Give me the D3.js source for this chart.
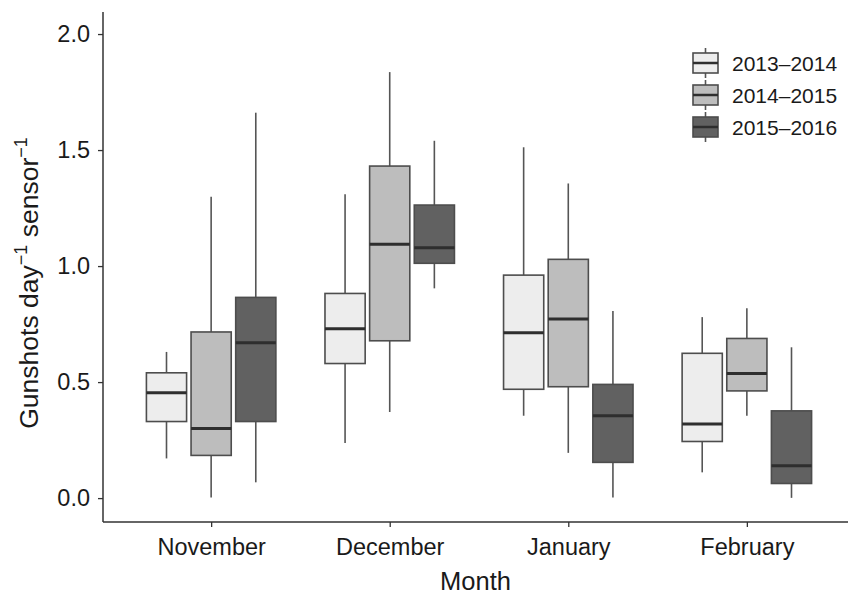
<!DOCTYPE html>
<html>
<head>
<meta charset="utf-8">
<script src="https://cdn.jsdelivr.net/npm/d3@7"></script>
<style>
  body { margin: 0; background: #fff; }
  text { font-family: "Liberation Sans", Arial, sans-serif; fill: #1a1a1a; }
</style>
</head>
<body>
<script>
const months = ['November', 'December', 'January', 'February'];
const seasons = ['2013–2014', '2014–2015', '2015–2016'];
const fills = ['#ededed', '#bdbdbd', '#616161'];
const yTicks = [0, 0.5, 1, 1.5, 2];

// box stats per season, one value per month (Nov, Dec, Jan, Feb)
const lower = [
  [0.171, 0.238, 0.355, 0.111],
  [0.003, 0.371, 0.195, 0.355],
  [0.068, 0.904, 0.003, 0.001]
];
const q1 = [
  [0.33, 0.58, 0.469, 0.244],
  [0.184, 0.678, 0.48, 0.462],
  [0.33, 1.012, 0.154, 0.063]
];
const median = [
  [0.454, 0.73, 0.713, 0.319],
  [0.30, 1.094, 0.772, 0.537],
  [0.67, 1.079, 0.355, 0.139]
];
const q3 = [
  [0.54, 0.882, 0.961, 0.624],
  [0.716, 1.431, 1.029, 0.688],
  [0.865, 1.263, 0.49, 0.376]
];
const upper = [
  [0.63, 1.31, 1.512, 0.78],
  [1.299, 1.836, 1.356, 0.818],
  [1.661, 1.54, 0.806, 0.65]
];

const svgWidth = 848;
const svgHeight = 594;
const padLeft = 103;
const padTop = 12;
const axisY = 522;

const boxes = [];
seasons.forEach((s, si) => {
  months.forEach((m, mi) => {
    boxes.push({
      month: m, season: s, si: si,
      lo: lower[si][mi], q1: q1[si][mi], med: median[si][mi],
      q3: q3[si][mi], hi: upper[si][mi]
    });
  });
});

const svg = d3.select('body')
  .append('svg')
  .attr('width', svgWidth)
  .attr('height', svgHeight);

// SCALES
const xScale = d3.scalePoint()
  .domain(months)
  .range([padLeft + 1, svgWidth + 6])
  .padding(0.6);
const step = xScale.step();

const dodge = d3.scaleBand()
  .domain(seasons)
  .range([-0.375 * step, 0.375 * step]);
const boxW = dodge.bandwidth() * 0.9;

const yScale = d3.scaleLinear()
  .domain([-0.103, 2.095])
  .range([axisY, padTop]);

// BOXES
const g = svg.append('g');
const cx = d => xScale(d.month) + dodge(d.season) + dodge.bandwidth() / 2;

g.selectAll('line.whisker-hi')
  .data(boxes)
  .enter()
  .append('line')
  .attr('x1', cx).attr('x2', cx)
  .attr('y1', d => yScale(d.hi))
  .attr('y2', d => yScale(d.q3))
  .attr('stroke', '#555')
  .attr('stroke-width', 1.6);

g.selectAll('line.whisker-lo')
  .data(boxes)
  .enter()
  .append('line')
  .attr('x1', cx).attr('x2', cx)
  .attr('y1', d => yScale(d.q1))
  .attr('y2', d => yScale(d.lo))
  .attr('stroke', '#555')
  .attr('stroke-width', 1.6);

g.selectAll('rect.box')
  .data(boxes)
  .enter()
  .append('rect')
  .attr('x', d => cx(d) - boxW / 2)
  .attr('y', d => yScale(d.q3))
  .attr('width', boxW)
  .attr('height', d => yScale(d.q1) - yScale(d.q3))
  .attr('fill', d => fills[d.si])
  .attr('stroke', '#4d4d4d')
  .attr('stroke-width', 1.6);

g.selectAll('line.median')
  .data(boxes)
  .enter()
  .append('line')
  .attr('x1', d => cx(d) - boxW / 2)
  .attr('x2', d => cx(d) + boxW / 2)
  .attr('y1', d => yScale(d.med))
  .attr('y2', d => yScale(d.med))
  .attr('stroke', '#2e2e2e')
  .attr('stroke-width', 3);

// AXES
const yAxis = svg.append('g')
  .attr('transform', `translate(${padLeft},0)`)
  .call(d3.axisLeft(yScale).tickValues(yTicks).tickFormat(d3.format('.1f')).tickSize(5).tickPadding(8));
yAxis.select('.domain').attr('d', `M0,${padTop}V${axisY}`);

const xAxis = svg.append('g')
  .attr('transform', `translate(0,${axisY})`)
  .call(d3.axisBottom(xScale).tickSize(5).tickPadding(11));
xAxis.select('.domain').attr('d', `M${padLeft},0H${svgWidth}`);

svg.selectAll('.domain').attr('stroke', '#333').attr('stroke-width', 1.5);
svg.selectAll('.tick line').attr('stroke', '#333').attr('stroke-width', 1.3);
svg.selectAll('.tick text')
  .style('font-family', '"Liberation Sans", Arial, sans-serif')
  .style('font-size', '23.5px')
  .attr('fill', '#1a1a1a');

// AXIS TITLES
svg.append('text')
  .attr('x', (padLeft + svgWidth) / 2)
  .attr('y', 590)
  .attr('text-anchor', 'middle')
  .style('font-size', '25.5px')
  .text('Month');

const yTitle = svg.append('text')
  .attr('transform', `translate(38,283) rotate(-90)`)
  .attr('text-anchor', 'middle')
  .style('font-size', '26.5px');
yTitle.append('tspan').text('Gunshots day');
yTitle.append('tspan').attr('dy', -11).style('font-size', '18px').text('−1');
yTitle.append('tspan').attr('dy', 11).text(' sensor');
yTitle.append('tspan').attr('dy', -11).style('font-size', '18px').text('−1');

// LEGEND
const legend = svg.append('g');
const keyW = 25;
const keyH = 20;
const legendY = d3.scalePoint().domain(seasons).range([63, 127]);

const item = legend.selectAll('g')
  .data(seasons)
  .enter()
  .append('g')
  .attr('transform', d => `translate(693,${legendY(d)})`);

item.append('line')
  .attr('x1', keyW / 2).attr('x2', keyW / 2)
  .attr('y1', -keyH / 2 - 5).attr('y2', keyH / 2 + 5)
  .attr('stroke', '#555')
  .attr('stroke-width', 1.6);

item.append('rect')
  .attr('x', 0)
  .attr('y', -keyH / 2)
  .attr('width', keyW)
  .attr('height', keyH)
  .attr('fill', (d, i) => fills[i])
  .attr('stroke', '#4d4d4d')
  .attr('stroke-width', 1.6);

item.append('line')
  .attr('x1', 0).attr('x2', keyW)
  .attr('y1', 0).attr('y2', 0)
  .attr('stroke', '#2e2e2e')
  .attr('stroke-width', 2.5);

item.append('text')
  .attr('x', 39)
  .attr('y', 0)
  .attr('dy', '0.36em')
  .style('font-size', '21px')
  .text(d => d);
</script>
</body>
</html>
